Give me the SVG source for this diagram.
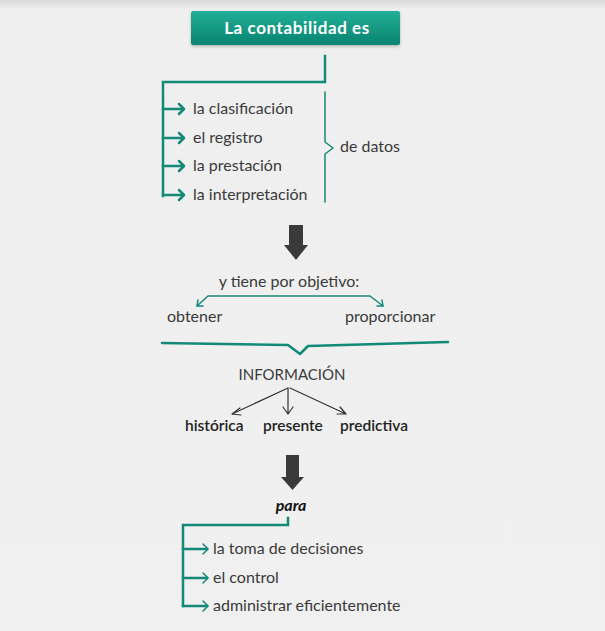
<svg xmlns="http://www.w3.org/2000/svg" width="605" height="631" viewBox="0 0 605 631">
<defs>
<linearGradient id="tg" x1="0" y1="0" x2="0" y2="1">
<stop offset="0" stop-color="#22b099"/>
<stop offset="1" stop-color="#0a8470"/>
</linearGradient>
<linearGradient id="bg" x1="0" y1="0" x2="0" y2="1">
<stop offset="0" stop-color="#d9d9d9"/>
<stop offset="0.015" stop-color="#efefef"/>
<stop offset="1" stop-color="#f0f0f0"/>
</linearGradient>
<filter id="sh" x="-10%" y="-20%" width="120%" height="150%">
<feDropShadow dx="0" dy="1.5" stdDeviation="1.5" flood-color="#000" flood-opacity="0.25"/>
</filter>
</defs>
<style>
.t{font-family:Lato,"Open Sans","Liberation Sans",sans-serif;font-size:16px;fill:#3a3a3a}
.b{font-weight:600;fill:#222;font-size:15.5px}
.tl{stroke:#138a77;stroke-width:2.5;fill:none;stroke-linecap:square}
.th{stroke:#138a77;stroke-width:2.5;fill:none;stroke-linecap:round;stroke-linejoin:round}
.tt{stroke:#138a77;stroke-width:1.5;fill:none;stroke-linecap:round;stroke-linejoin:round}
.dk{stroke:#333;stroke-width:1.2;fill:none;stroke-linecap:round;stroke-linejoin:round}
.big{fill:#3a3a3a}
</style>
<rect width="605" height="631" fill="url(#bg)"/>

<g id="title">
<rect x="191" y="11" width="209" height="34" rx="2" fill="url(#tg)" filter="url(#sh)"/>
<text x="297" y="33.5" text-anchor="middle" style="font-family:Lato,'Open Sans','Liberation Sans',sans-serif;font-size:17px;letter-spacing:0.6px;font-weight:bold;fill:#fff">La contabilidad es</text>
</g>

<g id="connectors">
<path class="tl" d="M325 56 V82 H163 V196"/>
<path class="tl" d="M163 109 H183 M163 138 H183 M163 166 H183 M163 195 H183"/>
<path class="th" d="M179 104 L184 109 L179 114 M179 133 L184 138 L179 143 M179 161 L184 166 L179 171 M179 190 L184 195 L179 200"/>
<path class="tt" d="M325 92 V142 L333 148 L325 154 V202" stroke-width="2"/>
<path class="tt" d="M197 306 L208 296 H370 L383 306"/>
<path class="tt" d="M197 306 L198 300 M197 306 L203 306 M383 306 L377 306 M383 306 L382 300"/>
<path class="th" d="M162 343 L288 345 L300 354 L308 346 L448 342"/>
<path class="dk" d="M288 388 L232 414 M232 414 L240 408 M232 414 L241 415"/>
<path class="dk" d="M288 388 V414 M283 407 L288 414 L293 407"/>
<path class="dk" d="M290 388 L346 414 M346 414 L337 414 M346 414 L340 407"/>
<path class="tl" d="M288 518 V525 H183 V606" stroke-width="2"/>
<path class="tl" d="M183 549 H207 M183 578 H207 M183 606 H207" stroke-width="1.8"/>
<path class="tt" d="M203 544 L208 549 L203 554 M203 573 L208 578 L203 583 M203 601 L208 606 L203 611"/>
<path class="big" d="M289 225 H303 V245 H308 L296 260 L284 245 H289 Z"/>
<path class="big" d="M286 455 H299 V477 H304 L292.5 490 L281 477 H286 Z"/>
</g>

<g id="items1">
<text class="t" x="193" y="114">la clasificación</text>
<text class="t" x="193" y="143">el registro</text>
<text class="t" x="193" y="171">la prestación</text>
<text class="t" x="193" y="200">la interpretación</text>
</g>
<g id="datos"><text class="t" x="340" y="152">de datos</text></g>
<g id="objetivo"><text class="t" x="289" y="287" text-anchor="middle">y tiene por objetivo:</text></g>
<g id="obtener"><text class="t" x="167" y="322">obtener</text></g>
<g id="proporcionar"><text class="t" x="345" y="322">proporcionar</text></g>
<g id="informacion"><text class="t" x="292" y="380" text-anchor="middle" style="font-size:15px">INFORMACIÓN</text></g>
<g id="historica"><text class="t b" x="185" y="431">histórica</text></g>
<g id="presente"><text class="t b" x="263" y="431">presente</text></g>
<g id="predictiva"><text class="t b" x="340" y="431">predictiva</text></g>
<g id="para"><text class="t" x="291" y="511" text-anchor="middle" style="font-weight:bold;font-style:italic;fill:#111">para</text></g>
<g id="items2">
<text class="t" x="213" y="554">la toma de decisiones</text>
<text class="t" x="213" y="583">el control</text>
<text class="t" x="213" y="611">administrar eficientemente</text>
</g>
</svg>
